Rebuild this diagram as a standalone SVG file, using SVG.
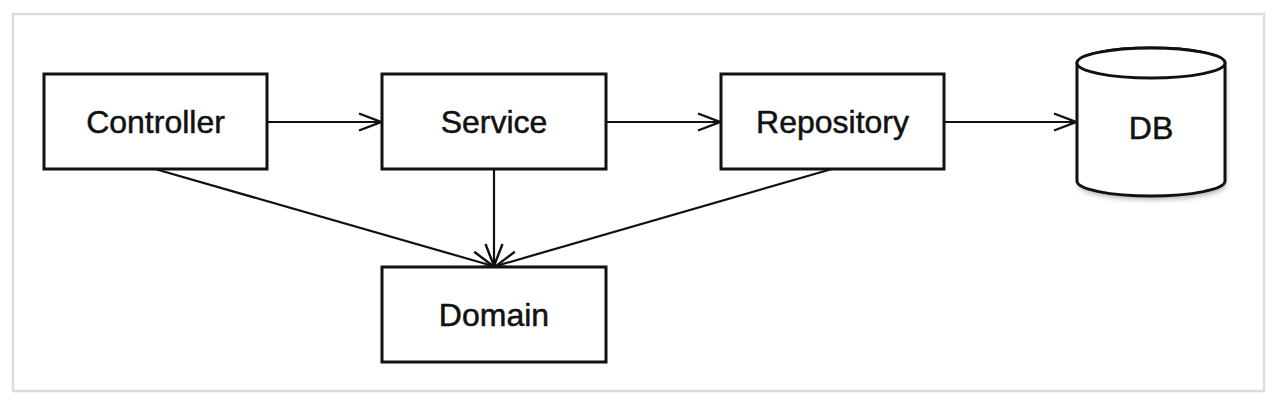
<svg xmlns="http://www.w3.org/2000/svg" width="1278" height="410" viewBox="0 0 1278 410">
<style>
.box{fill:#fff;stroke:#111;stroke-width:3}
.lbl{font-family:"Liberation Sans",Arial,sans-serif;font-size:32px;fill:#111;stroke:#111;stroke-width:0.5;text-anchor:middle}
.conn{stroke:#111;stroke-width:2.2;fill:none}
</style>
<defs>
<marker id="arr" viewBox="0 0 24 20" refX="23" refY="10" markerWidth="24" markerHeight="20" markerUnits="userSpaceOnUse" orient="auto">
<path d="M1,1.5 L23,10 L1,18.5" fill="none" stroke="#111" stroke-width="2.4"/>
</marker>
<filter id="sh" x="-20%" y="-20%" width="140%" height="150%">
<feGaussianBlur stdDeviation="2.5"/>
</filter>
</defs>
<rect x="0" y="0" width="1278" height="410" fill="#fff"/>
<rect x="13" y="14" width="1251" height="377" fill="#fff" stroke="#dcdcdc" stroke-width="2.5"/>
<g id="connectors">
<line class="conn" x1="267" y1="122" x2="381" y2="122" marker-end="url(#arr)"/>
<line class="conn" x1="606" y1="122" x2="720" y2="122" marker-end="url(#arr)"/>
<line class="conn" x1="944" y1="122" x2="1076" y2="122" marker-end="url(#arr)"/>
<line class="conn" x1="494" y1="169" x2="494" y2="266" marker-end="url(#arr)"/>
<line class="conn" x1="155" y1="169" x2="493" y2="266" marker-end="url(#arr)"/>
<line class="conn" x1="832" y1="169" x2="496" y2="266" marker-end="url(#arr)"/>
</g>
<g id="controller">
<rect class="box" x="44" y="74" width="223" height="95"/>
<text class="lbl" x="155.5" y="133">Controller</text>
</g>
<g id="service">
<rect class="box" x="382" y="74" width="224" height="95"/>
<text class="lbl" x="494" y="133">Service</text>
</g>
<g id="repository">
<rect class="box" x="721" y="74" width="223" height="95"/>
<text class="lbl" x="832.5" y="133">Repository</text>
</g>
<g id="domain">
<rect class="box" x="382" y="267" width="224" height="95"/>
<text class="lbl" x="494" y="326">Domain</text>
</g>
<g id="db">
<path d="M1077,63 L1077,181 A74,15 0 0 0 1225,181 L1225,63" fill="#888" opacity="0.6" filter="url(#sh)" transform="translate(1,4)"/>
<path d="M1077,63 L1077,181 A74,15 0 0 0 1225,181 L1225,63 A74,15 0 0 0 1077,63 Z" fill="#fff" stroke="#111" stroke-width="3"/>
<ellipse cx="1151" cy="63" rx="74" ry="15" fill="#fff" stroke="#111" stroke-width="3"/>
<text class="lbl" x="1151" y="139">DB</text>
</g>
</svg>
